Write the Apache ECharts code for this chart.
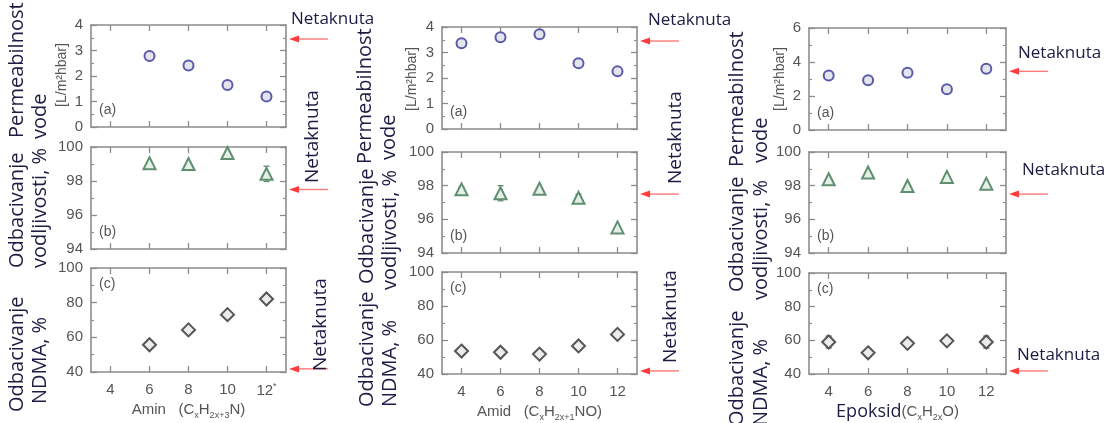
<!DOCTYPE html>
<html><head><meta charset="utf-8">
<script src="https://cdn.jsdelivr.net/npm/echarts@6/dist/echarts.min.js"></script>
<style>html,body{margin:0;padding:0;background:#fff}#c{width:1113px;height:423px}</style>
</head><body><div id="c"></div>
<script>
// ---------- data ----------
const carbonNumbers = ['4', '6', '8', '10', '12'];

const aminPermeability   = ['-', 2.78, 2.41, 1.65, 1.2];
const aminConductivity   = ['-', 99.05, 99.0, 99.65, 98.42];
const aminConductivityErr = [0, 0, 0, 0, 0.45];
const aminNdma           = ['-', 55.7, 64.3, 73.1, 82.1];

const amidPermeability   = [3.36, 3.6, 3.72, 2.58, 2.26];
const amidPermeabilityErr = [0, 0.12, 0.1, 0, 0.15];
const amidConductivity   = [97.78, 97.55, 97.82, 97.28, 95.52];
const amidConductivityErr = [0.15, 0.45, 0, 0.2, 0];
const amidNdma           = [53.5, 52.8, 51.7, 56.5, 63.3];

const epoksidPermeability = [3.2, 2.92, 3.37, 2.4, 3.6];
const epoksidConductivity = [98.38, 98.78, 97.98, 98.52, 98.12];
const epoksidNdma         = [59, 52.6, 58.2, 59.7, 59];
const epoksidNdmaErr      = [3.5, 0, 1.5, 1, 3.5];

// untouched (Netaknuta) membrane reference values: permeability, conductivity rejection, NDMA rejection
const untouched = [3.45, 97.5, 41.8];

// y scales: [min, max, interval]
const permeabilityScale  = [0, 4, 1];
const permeabilityScaleE = [0, 6, 2];
const conductivityScale  = [94, 100, 2];
const ndmaScale          = [40, 100, 20];

const panelLetters = ['(a)', '(b)', '(c)'];
const xNames = ['Amin   (C{s|x}H{s|2x+3}N)', 'Amid   (C{s|x}H{s|2x+1}NO)', '{e|Epoksid}(C{s|x}H{s|2x}O)'];

// ---------- layout ----------
const cols = [
  {left: 91,  width: 195, rows: [[25, 102], [147, 102], [268, 104]], namePad: [0, 0, 0, 0]},
  {left: 442, width: 195, rows: [[27, 102], [152, 101], [272, 105]], namePad: [0, 0, 0, 0]},
  {left: 809, width: 197, rows: [[28, 102], [152, 101], [273, 103]], namePad: [0, 20, 0, 0]}
];

const panels = [
  {col: 0, row: 0, data: aminPermeability, err: null, scale: permeabilityScale, kind: 0},
  {col: 0, row: 1, data: aminConductivity, err: aminConductivityErr, scale: conductivityScale, kind: 1},
  {col: 0, row: 2, data: aminNdma, err: null, scale: ndmaScale, kind: 2},
  {col: 1, row: 0, data: amidPermeability, err: amidPermeabilityErr, scale: permeabilityScale, kind: 0},
  {col: 1, row: 1, data: amidConductivity, err: amidConductivityErr, scale: conductivityScale, kind: 1},
  {col: 1, row: 2, data: amidNdma, err: null, scale: ndmaScale, kind: 2},
  {col: 2, row: 0, data: epoksidPermeability, err: null, scale: permeabilityScaleE, kind: 0},
  {col: 2, row: 1, data: epoksidConductivity, err: null, scale: conductivityScale, kind: 1},
  {col: 2, row: 2, data: epoksidNdma, err: epoksidNdmaErr, scale: ndmaScale, kind: 2}
];

const markerStyles = [
  {symbol: 'circle', size: 10, color: '#5a5aaa', fill: '#e4e4ec'},
  {symbol: 'triangle', size: 12, color: '#5f8f6f', fill: '#e6eee8'},
  {symbol: 'diamond', size: 13, color: '#555555', fill: '#ececec'}
];

const frame = '#8c8c8c';
const navy = '#1c1c44';
const grey = '#555';
const tickFont = 'Liberation Sans, Arial, sans-serif';
const textFont = 'Open Sans, DejaVu Sans, sans-serif';

const grids = [], xAxes = [], yAxes = [], series = [];

panels.forEach((p, gi) => {
  const c = cols[p.col];
  const [top, h] = c.rows[p.row];
  grids.push({left: c.left, top: top, width: c.width, height: h, containLabel: false});
  const isBottom = p.row === 2;
  const tickStyle = {color: frame, width: 1.3};
  const xBase = {
    type: 'category', gridIndex: gi, data: carbonNumbers, boundaryGap: true,
    axisLine: {show: true, onZero: false, lineStyle: {color: frame, width: 1.6}},
    axisTick: {show: true, inside: true, alignWithLabel: true, length: 6, lineStyle: tickStyle},
    splitLine: {show: false}
  };
  const xb = Object.assign({}, xBase, {
    position: 'bottom',
    axisLabel: {
      show: isBottom, interval: 0, color: grey, fontSize: 15, fontFamily: tickFont, margin: 10,
      formatter: (v) => (p.col === 0 && v === '12') ? '12{sup|*}' : v,
      rich: {sup: {fontSize: 9, color: grey, verticalAlign: 'top', lineHeight: 18}}
    }
  });
  if (isBottom) {
    xb.name = xNames[p.col];
    xb.nameLocation = 'middle';
    xb.nameGap = 28;
    xb.nameTextStyle = {
      color: grey, fontSize: 15, fontFamily: tickFont, lineHeight: 20, padding: c.namePad,
      rich: {
        s: {fontSize: 9, color: grey, fontFamily: tickFont, verticalAlign: 'bottom', lineHeight: 12},
        e: {fontSize: 18, color: navy, fontFamily: textFont, lineHeight: 20}
      }
    };
  }
  xAxes.push(xb);
  xAxes.push(Object.assign({}, xBase, {position: 'top', axisLabel: {show: false}}));

  const [mn, mx, iv] = p.scale;
  const yBase = {
    type: 'value', gridIndex: gi, min: mn, max: mx, interval: iv,
    axisLine: {show: true, lineStyle: {color: frame, width: 1.6}},
    axisTick: {show: true, inside: true, length: 6, lineStyle: tickStyle},
    minorTick: {show: true, splitNumber: 2, length: 3, lineStyle: {color: frame, width: 1.1}},
    splitLine: {show: false}, minorSplitLine: {show: false}
  };
  yAxes.push(Object.assign({}, yBase, {
    position: 'left',
    axisLabel: {show: true, color: grey, fontSize: 15, fontFamily: tickFont, margin: 8}
  }));
  yAxes.push(Object.assign({}, yBase, {position: 'right', axisLabel: {show: false}}));

  const ms = markerStyles[p.kind];
  if (p.err) {
    const errData = [];
    p.err.forEach((e, i) => {
      if (e > 0 && p.data[i] !== '-') errData.push([i, p.data[i] - e, p.data[i] + e]);
    });
    series.push({
      type: 'custom', xAxisIndex: 2 * gi, yAxisIndex: 2 * gi, z: 1, silent: true,
      data: errData,
      renderItem: (params, api) => {
        const lo = api.coord([api.value(0), api.value(1)]);
        const hi = api.coord([api.value(0), api.value(2)]);
        const w = 3;
        const st = {stroke: ms.color, lineWidth: 1.3};
        return {type: 'group', children: [
          {type: 'line', shape: {x1: lo[0], y1: lo[1], x2: hi[0], y2: hi[1]}, style: st},
          {type: 'line', shape: {x1: lo[0] - w, y1: lo[1], x2: lo[0] + w, y2: lo[1]}, style: st},
          {type: 'line', shape: {x1: hi[0] - w, y1: hi[1], x2: hi[0] + w, y2: hi[1]}, style: st}
        ]};
      }
    });
  }
  series.push({
    type: 'scatter', xAxisIndex: 2 * gi, yAxisIndex: 2 * gi, z: 3,
    symbol: ms.symbol, symbolSize: ms.size,
    itemStyle: {color: ms.fill, borderColor: ms.color, borderWidth: 2, opacity: 1},
    data: p.data
  });
});

const chart = echarts.init(document.getElementById('c'));
chart.setOption({
  animation: false,
  backgroundColor: '#fff',
  grid: grids, xAxis: xAxes, yAxis: yAxes, series: series
});

// ---------- annotations ----------
const g = [];
function rotText(text, x, yBottom, size, color, font) {
  g.push({type: 'text', x: x, y: yBottom, rotation: Math.PI / 2, silent: true,
    style: {text: text, x: 0, y: 0, fill: color || navy, font: (size || 20) + 'px ' + (font || textFont),
      textAlign: 'left', textVerticalAlign: 'middle'}});
}
function hText(text, x, yc) {
  g.push({type: 'text', x: x, y: yc, silent: true,
    style: {text: text, x: 0, y: 0, fill: navy, font: '17px ' + textFont, textAlign: 'left', textVerticalAlign: 'middle'}});
}

// y-axis titles
const sideLabels = [
  ['Permeabilnost', 17, 138], ['vode', 40, 139], ['Odbacivanje', 17, 268], ['vodljivosti, %', 40, 268],
  ['Odbacivanje', 17, 412], ['NDMA, %', 40, 404],
  ['Permeabilnost', 365, 164], ['vode', 389, 160], ['Odbacivanje', 367, 284], ['vodljivosti, %', 390, 290],
  ['Odbacivanje', 367, 407], ['NDMA, %', 390, 407],
  ['Permeabilnost', 737, 167], ['vode', 761, 163], ['Odbacivanje', 737, 292], ['vodljivosti, %', 761, 300],
  ['Odbacivanje', 737, 426], ['NDMA, %', 761, 426]
];
sideLabels.forEach(s => rotText(s[0], s[1], s[2]));
// units
[[62, 75], [412, 79], [780, 79]].forEach(u => {
  g.push({type: 'text', x: u[0], y: u[1], rotation: Math.PI / 2, silent: true,
    style: {text: '[L/m\u00b2hbar]', x: 0, y: 0, fill: grey, font: '14px ' + tickFont, textAlign: 'center', textVerticalAlign: 'middle'}});
});

// panel letters
panels.forEach((p, gi) => {
  const c = cols[p.col];
  const [top, h] = c.rows[p.row];
  const y = p.row === 2 ? top + 16 : top + h - 17;
  g.push({type: 'text', x: c.left + 8, y: y, silent: true,
    style: {text: panelLetters[p.row], x: 0, y: 0, fill: grey, font: '14px ' + tickFont, textAlign: 'left', textVerticalAlign: 'middle'}});
});

// red arrows at untouched values
panels.forEach((p, gi) => {
  const c = cols[p.col];
  const xr = c.left + c.width;
  const y = chart.convertToPixel({yAxisIndex: 2 * gi}, untouched[p.row]);
  const red = '#ff3b3b';
  g.push({type: 'line', silent: true, shape: {x1: xr + 10, y1: y, x2: xr + 42, y2: y}, style: {stroke: '#ff7a7a', lineWidth: 1.4}});
  g.push({type: 'polygon', silent: true, shape: {points: [[xr + 3, y], [xr + 13, y - 3.5], [xr + 13, y + 3.5]]}, style: {fill: red}});
});

// Netaknuta labels
hText('Netaknuta', 291, 19);
hText('Netaknuta', 648, 20);
hText('Netaknuta', 1018, 53);
hText('Netaknuta', 1022, 170);
hText('Netaknuta', 1017, 355);
rotText('Netaknuta', 313, 183, 19);
rotText('Netaknuta', 321, 371, 19);
rotText('Netaknuta', 676, 184, 19);
rotText('Netaknuta', 671, 363, 19);

chart.setOption({graphic: {elements: g}});
</script>
</body></html>
